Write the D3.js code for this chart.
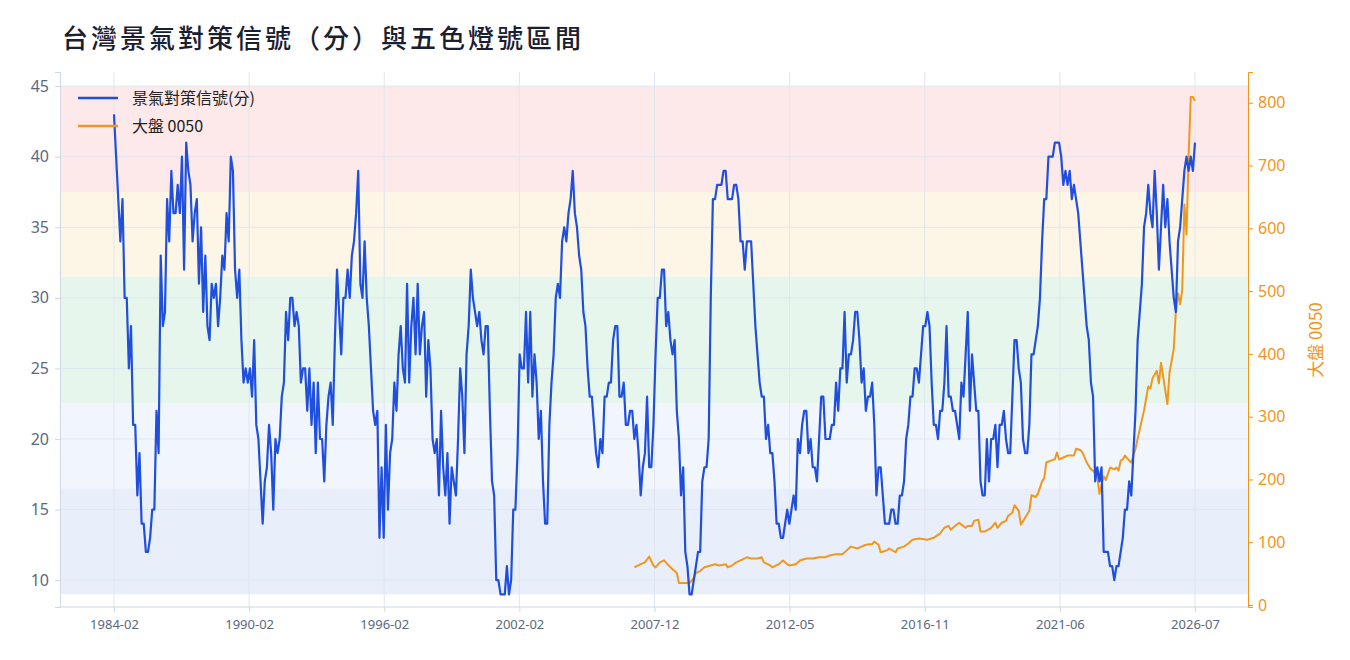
<!DOCTYPE html>
<html><head><meta charset="utf-8">
<script src="https://cdn.jsdelivr.net/npm/d3@7"></script>
<style>body{margin:0;background:#fff;font-family:"Noto Sans CJK TC","Noto Sans",sans-serif;}</style>
</head><body><svg id="c" width="1350" height="660"></svg>
<script>
const tickLabels = ["1984-02","1990-02","1996-02","2002-02","2007-12","2012-05","2016-11","2021-06","2026-07"];
const leftTicks = [10,15,20,25,30,35,40,45];
const rightTicks = [0,100,200,300,400,500,600,700,800];
const bands = [
  {lo:37.5, hi:45, color:"#fde9e9"},
  {lo:31.5, hi:37.5, color:"#fdf6e7"},
  {lo:22.5, hi:31.5, color:"#e7f6ec"},
  {lo:16.5, hi:22.5, color:"#f1f6fd"},
  {lo:9, hi:16.5, color:"#e8eefa"}
];
// monthly signal, index 0 = 1984-02
const signal = [
43,40,37,34,37,30,30,25,28,21,21,16,19,14,14,12,12,13,15,15,22,19,33,28,29,37,34,39,36,36,38,36,40,32,41,39,38,34,36,37,31,35,29,33,28,27,31,30,31,28,30,33,32,36,34,40,39,32,30,32,27,24,25,24,25,23,27,21,20,17,14,17,18,21,19,15,20,19,20,23,24,29,27,30,30,28,29,28,24,25,25,22,25,21,24,19,24,20,20,17,21,23,24,21,27,32,29,26,30,30,32,30,33,34,36,39,31,30,34,30,28,25,22,21,22,13,
18,13,21,15,19,20,24,22,26,28,25,24,31,24,28,30,26,31,26,28,29,23,27,25,20,19,20,16,22,18,16,19,14,18,17,16,20,25,23,19,26,28,32,30,29,28,29,27,26,28,28,22,17,16,10,10,9,9,9,11,9,10,15,15,19,26,25,25,29,24,29,23,26,24,20,22,17,14,14,21,24,26,30,31,30,34,35,34,36,37,39,36,35,33,32,29,28,25,23,23,21,19,18,20,19,23,23,24,24,27,28,28,23,23,24,21,21,22,22,20,21,19,16,18,19,23,18,18,21,26,30,30,32,32,
28,29,27,26,27,22,20,16,18,12,11,9,9,10,11,12,12,17,18,18,20,30,37,37,38,38,38,39,39,37,37,37,38,38,37,34,34,32,34,34,34,31,28,26,24,23,23,20,21,19,19,17,14,14,13,13,14,15,14,15,16,15,20,19,21,22,22,19,20,18,18,17,20,23,23,20,20,20,21,21,24,22,25,25,29,24,26,26,27,29,29,27,24,25,22,23,23,24,21,16,18,18,16,14,14,14,15,15,14,14,16,16,17,20,21,23,23,25,25,
24,26,28,28,29,28,24,21,21,20,22,22,24,28,23,23,22,22,21,20,24,23,26,29,22,26,24,22,22,17,16,16,20,17,20,20,21,18,21,21,22,20,19,19,23,27,27,25,24,20,19,19,21,26,26,27,28,30,34,37,37,40,40,40,41,
41,41,40,38,39,38,39,37,38,37,36,34,32,30,28,27,24,23,17,18,17,18,12,12,12,11,11,10,
11,11,12,13,15,15,17,16,19,22,27,29,31,35,36,38,36,35,39,36,32,35,38,35,37,34,32,30,29,34,35,37,39,40,39,40,39,41
];
// 0050: month index (same origin as signal) and value
const etfMonth = [245,248,250,252,254,255,257,259,262,263,265,266,269,271,273,274,276,278,281,283,285,288,289,291,293,295,298,300,303,305,306,309,310,313,315,317,318,321,323,326,329,332,335,337,340,343,345,347,350,352,354,357,358,360,361,364,365,368,369,372,374,376,379,
383,386,389,391,393,394,396,398,399,401,402,404,405,407,408,410,413,415,416,418,420,421,423,424,426,427,429,431,432,434,435,437,438,439,441,443,444,445,447,449,452,453,455,456,458,460,461,463,464,466,467,469,471,472,473,474,475,476,478,479,481,482,484,485,487,488,489,491,492,493,496,497,499,500,501,502,503,504,505,506,507,508,509];
const etfValue = [60,65,68,77,63,60,68,71,60,57,51,35,35,35,43,51,54,60,63,65,63,65,60,63,68,71,76,74,74,76,68,63,60,65,71,65,63,65,71,74,74,76,76,79,81,81,87,93,90,93,96,97,101,96,84,87,90,84,90,93,98,104,106,
104,107,114,123,126,120,126,131,128,123,126,126,134,136,117,117,123,131,123,131,134,142,147,159,150,128,139,150,175,172,177,197,202,227,230,232,243,232,235,238,238,249,247,243,227,216,214,205,177,205,199,219,216,219,214,230,232,238,230,227,249,265,295,310,348,345,361,373,353,386,320,370,408,469,496,479,502,638,590,716,809,809,803];

const svg = d3.select("#c");
const L=60,R=1248,T=72,B=607, X0=114, X1=1195;
const x = d3.scaleLinear().domain([0, signal.length-1]).range([X0, X1]);
const yL = d3.scaleLinear().domain([8.1, 46]).range([B, T]);
const yR = d3.scaleLinear().domain([-3.2, 849]).range([B, T]);
const xT = d3.scalePoint().domain(tickLabels).range([X0, X1]);

svg.append("text").attr("x",62).attr("y",48).attr("font-size",26).attr("font-weight",500)
  .attr("letter-spacing",3).attr("fill","#1a2030").text("台灣景氣對策信號（分）與五色燈號區間");

svg.selectAll("rect.band").data(bands).join("rect").attr("class","band")
  .attr("x",L).attr("width",R-L).attr("y",d=>yL(d.hi)).attr("height",d=>yL(d.lo)-yL(d.hi)).attr("fill",d=>d.color);

svg.selectAll("line.gx").data(tickLabels).join("line").attr("class","gx")
  .attr("x1",d=>xT(d)).attr("x2",d=>xT(d)).attr("y1",T).attr("y2",B).attr("stroke","#dfe6ef").attr("stroke-width",1);
svg.selectAll("line.gy").data(leftTicks).join("line").attr("class","gy")
  .attr("x1",L).attr("x2",R).attr("y1",d=>yL(d)).attr("y2",d=>yL(d)).attr("stroke","#dfe6ef").attr("stroke-width",1);

const axL = svg.append("g").attr("transform",`translate(${L},0)`).call(d3.axisLeft(yL).tickValues(leftTicks).tickSize(5).tickPadding(6));
axL.selectAll("text").attr("font-size",16).attr("fill","#5b6880").attr("font-family","'Noto Sans',sans-serif");
axL.selectAll("line").attr("stroke","#cfd8e3"); axL.select(".domain").attr("stroke","#cfd8e3");
const axR = svg.append("g").attr("transform",`translate(${R},0)`).call(d3.axisRight(yR).tickValues(rightTicks).tickSize(5).tickPadding(5));
axR.selectAll("text").attr("font-size",16).attr("fill","#f0951c").attr("font-family","'Noto Sans',sans-serif");
axR.selectAll("line").attr("stroke","#f0951c"); axR.select(".domain").attr("stroke","#f0951c");
const axB = svg.append("g").attr("transform",`translate(0,${B})`).call(d3.axisBottom(xT).tickSize(5).tickPadding(8));
axB.selectAll("text").attr("font-size",13).attr("fill","#5b6880").attr("font-family","'Noto Sans',sans-serif");
axB.selectAll("line").attr("stroke","#cfd8e3");
axB.select(".domain").attr("d",`M${L},0H${R}`).attr("stroke","#cfd8e3");

svg.append("text").attr("transform",`translate(1322,340) rotate(-90)`).attr("text-anchor","middle")
  .attr("font-size",17).attr("fill","#f0951c").text("大盤 0050");

const etf = etfMonth.map((m,i)=>({m, v:etfValue[i]}));
svg.append("path").datum(etf).attr("fill","none").attr("stroke","#f0971e").attr("stroke-width",2)
  .attr("stroke-linejoin","round").attr("d", d3.line().x(d=>x(d.m)).y(d=>yR(d.v)));
svg.append("path").datum(signal).attr("fill","none").attr("stroke","#1f4fdc").attr("stroke-width",2.2)
  .attr("stroke-linejoin","round").attr("d", d3.line().x((d,i)=>x(i)).y(d=>yL(d)));

const leg = [{t:"景氣對策信號(分)",c:"#1f4fdc"},{t:"大盤 0050",c:"#f0971e"}];
const lg = svg.selectAll("g.leg").data(leg).join("g").attr("class","leg").attr("transform",(d,i)=>`translate(78,${98+i*28})`);
lg.append("line").attr("x1",0).attr("x2",40).attr("stroke",d=>d.c).attr("stroke-width",2.5);
lg.append("text").attr("x",54).attr("y",6).attr("font-size",16).attr("fill","#222").text(d=>d.t);
</script></body></html>
